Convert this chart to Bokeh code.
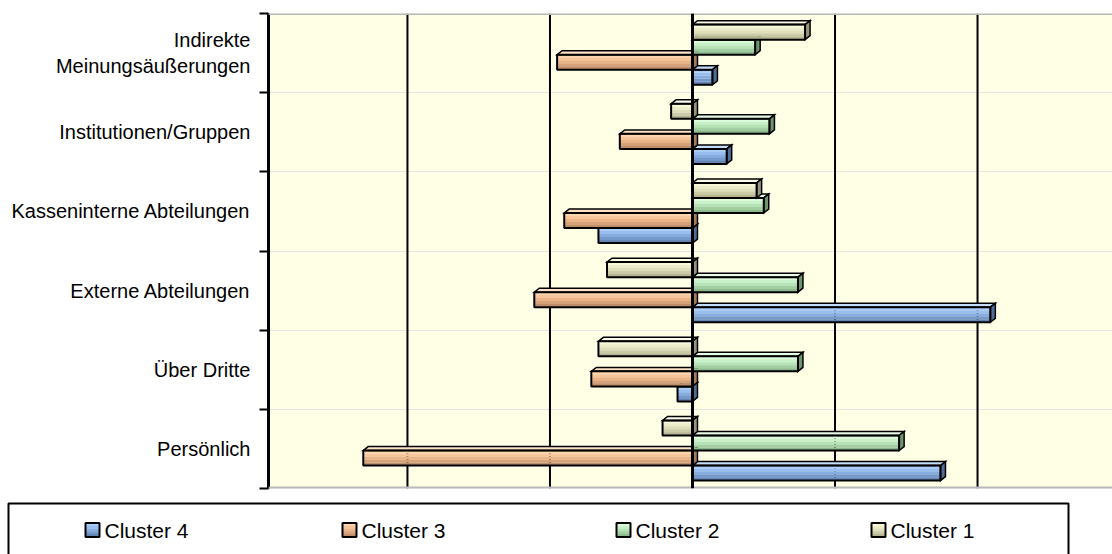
from bokeh.plotting import figure
from bokeh.models import Range1d, FixedTicker, Span, LinearAxis
from bokeh.embed import file_html
from bokeh.resources import INLINE
from bokeh.core.properties import value

# Categories from bottom to top
categories = [
    "Persönlich",
    "Über Dritte",
    "Externe Abteilungen",
    "Kasseninterne Abteilungen",
    "Institutionen/Gruppen",
    "Indirekte\nMeinungsäußerungen",
]

series_names = ["Cluster 4", "Cluster 3", "Cluster 2", "Cluster 1"]

cluster_4 = [1.74, -0.105, 2.09, -0.66, 0.24, 0.14]
cluster_3 = [-2.31, -0.71, -1.11, -0.90, -0.51, -0.95]
cluster_2 = [1.45, 0.74, 0.74, 0.50, 0.54, 0.44]
cluster_1 = [-0.21, -0.66, -0.60, 0.45, -0.15, 0.79]

series_values = [cluster_4, cluster_3, cluster_2, cluster_1]

grid_ticks = [-2, -1, 1, 2]

# Front-face shading (top -> bottom), top face and side face colours
front_shades = {
    "Cluster 4": ["#aacef8", "#98bef0", "#87ade0", "#7699cb", "#6585b5"],
    "Cluster 3": ["#fdd6b0", "#f7c59c", "#eab488", "#d6a279", "#bf8e6a"],
    "Cluster 2": ["#dcfcdc", "#c9f1c9", "#b6e3b6", "#a2cea2", "#8db98d"],
    "Cluster 1": ["#f8f8db", "#ececcb", "#dedeba", "#cbcba7", "#b5b592"],
}
top_face = {
    "Cluster 4": "#c4ddfa",
    "Cluster 3": "#fde2c8",
    "Cluster 2": "#e8fde8",
    "Cluster 1": "#fbfbe8",
}
side_face = {
    "Cluster 4": "#4f6d98",
    "Cluster 3": "#a67a5a",
    "Cluster 2": "#6f9470",
    "Cluster 1": "#96967a",
}

X_START, X_END = -2.975, 2.947
BAR_H = 0.19
GROUP_SHIFT = -0.02
DX, DY = 0.035, 0.05
N_STRIPS = len(front_shades["Cluster 4"])

p = figure(
    width=1112, height=496,
    x_range=Range1d(X_START, X_END), y_range=Range1d(0, 6),
    x_axis_location=None, y_axis_location=None,
    output_backend="svg", toolbar_location=None,
    min_border_left=268, min_border_right=0,
    min_border_top=13, min_border_bottom=8,
    background_fill_color="#FFFFE6", border_fill_color="white",
)
p.outline_line_color = None

# wall edge on top and floor edge at the bottom
p.add_layout(Span(location=6, dimension="width", line_color="#B8B8B8", line_width=3))
p.add_layout(Span(location=0, dimension="width", line_color="#B8B8B8", line_width=4))

# vertical grid lines behind the bars
for g in grid_ticks:
    p.add_layout(Span(location=g, dimension="height", line_color="black",
                      line_width=2, level="underlay"))

# category axis: labels at the centres, tick marks at the boundaries
yaxis = LinearAxis(
    ticker=FixedTicker(ticks=[i + 0.5 for i in range(len(categories))],
                       minor_ticks=list(range(len(categories) + 1))),
    major_label_overrides={i + 0.5: c for i, c in enumerate(categories)},
    axis_line_color="black", axis_line_width=3,
    major_tick_line_color=None, major_tick_out=0, major_tick_in=0,
    minor_tick_line_color="black", minor_tick_line_width=2,
    minor_tick_out=9, minor_tick_in=0,
    major_label_standoff=9,
    major_label_text_font="Liberation Sans",
    major_label_text_font_size="20px",
    major_label_text_color="black",
)
p.add_layout(yaxis, "left")

for j, (name, vals) in enumerate(zip(series_names, series_values)):
    ys = [i + 0.5 + GROUP_SHIFT + (j - 1.5) * BAR_H for i in range(len(vals))]
    lefts = [min(0, v) for v in vals]
    rights = [max(0, v) for v in vals]
    # shaded front face
    for s, col in enumerate(front_shades[name]):
        sy = [y + BAR_H / 2 - (s + 0.5) * BAR_H / N_STRIPS for y in ys]
        p.hbar(y=sy, left=lefts, right=rights, height=BAR_H / N_STRIPS * 1.05,
               fill_color=col, line_color=None)
    # top face
    top_xs = [[l, r, r + DX, l + DX] for l, r in zip(lefts, rights)]
    top_ys = [[y + BAR_H / 2, y + BAR_H / 2, y + BAR_H / 2 + DY, y + BAR_H / 2 + DY] for y in ys]
    p.patches(top_xs, top_ys, fill_color=top_face[name], line_color="black",
              line_width=1.5, line_join="miter")
    # side face at the right end
    side_xs = [[r, r + DX, r + DX, r] for r in rights]
    side_ys = [[y - BAR_H / 2, y - BAR_H / 2 + DY, y + BAR_H / 2 + DY, y + BAR_H / 2] for y in ys]
    p.patches(side_xs, side_ys, fill_color=side_face[name], line_color="black",
              line_width=1.5, line_join="miter")
    # front outline
    p.hbar(y=ys, left=lefts, right=rights, height=BAR_H,
           fill_color=None, line_color="black", line_width=2)

p.add_layout(Span(location=0, dimension="height", line_color="black", line_width=3))

# legend strip below the chart (pixel coordinates, y pointing down)
lf = figure(
    width=1112, height=58,
    x_range=Range1d(0, 1112), y_range=Range1d(58, 0),
    x_axis_location=None, y_axis_location=None,
    output_backend="svg", toolbar_location=None,
    min_border=0, min_border_left=0, min_border_right=0,
    min_border_top=0, min_border_bottom=0,
    background_fill_color="white", border_fill_color="white",
)
lf.outline_line_color = None
lf.grid.visible = False

lf.line(x=[8, 8, 1068, 1068], y=[80, 7, 7, 80], line_color="black", line_width=2)

legend_x = [85, 342, 616, 871]
SW = 14
SW_Y = 33.5
for name, lx in zip(series_names, legend_x):
    shades = front_shades[name]
    for s, col in enumerate(shades):
        lf.rect(x=[lx + SW / 2], y=[SW_Y - SW / 2 + (s + 0.5) * SW / len(shades)],
                width=SW, height=SW / len(shades) * 1.1, fill_color=col, line_color=None)
    lf.rect(x=[lx + SW / 2], y=[SW_Y], width=SW, height=SW,
            fill_color=None, line_color="black", line_width=2)
    lf.text(x=[lx + SW + 5], y=[SW_Y], text=[name], text_font=value("Liberation Sans"),
            text_font_size="21px", text_baseline="middle", text_align="left",
            text_color="black")

open("out.html", "w").write(file_html([p, lf], INLINE))
